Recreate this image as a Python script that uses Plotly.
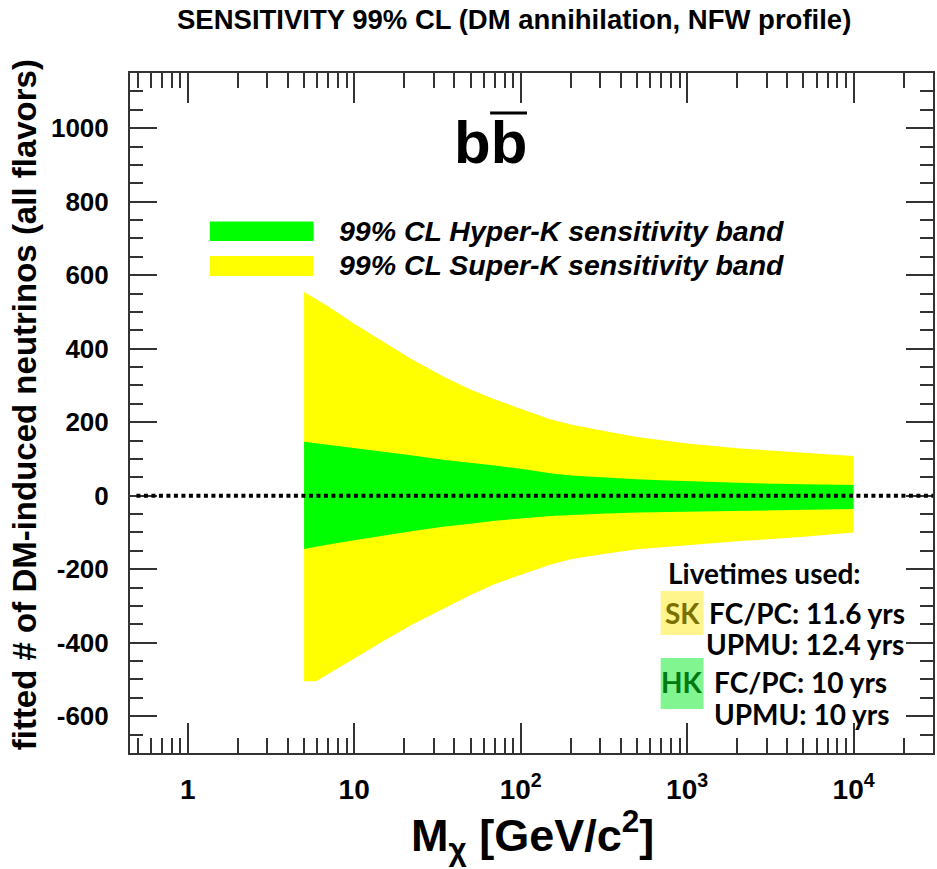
import plotly.graph_objects as go

# ---------------- data ----------------
mass = [5, 5.9, 7, 10, 15, 22, 35, 50, 70, 100, 150, 200, 300, 500, 700, 1000, 2000, 5000, 10000]
sk_hi = [554, 535, 515, 468, 418, 372, 322, 289, 262, 236, 208, 194, 178, 160, 151, 142, 129, 116, 108]
sk_lo = [-505, -505, -483, -442, -395, -352, -305, -270, -240, -215, -188, -173, -160, -146, -141, -135, -124, -112, -100]
hk_hi = [147, 143, 139, 130, 120, 110, 97, 90, 82, 73, 61, 55, 50, 45, 42, 39, 35, 31, 29]
hk_lo = [-145, -140, -133, -121, -108, -97, -84, -76, -68, -62, -55, -52, -49, -46, -44, -42, -40, -38, -36]

xtick_vals = [1, 10, 100, 1000, 10000]
xtick_text = ["1", "10", "10<sup>2</sup>", "10<sup>3</sup>", "10<sup>4</sup>"]
ytick_vals = [-600, -400, -200, 0, 200, 400, 600, 800, 1000]

W, H = 937, 869
L, R, T, B = 130, 2, 73, 116
PW, PH = W - L - R, H - T - B


def px(x):
    return (x - L) / PW


def py(y):
    return (H - B - y) / PH


fig = go.Figure()
fig.add_trace(go.Scatter(x=mass + mass[::-1], y=sk_hi + sk_lo[::-1], fill="toself",
                         fillcolor="#FFFF00", line=dict(width=0), mode="lines",
                         hoverinfo="skip", showlegend=False))
fig.add_trace(go.Scatter(x=mass + mass[::-1], y=hk_hi + hk_lo[::-1], fill="toself",
                         fillcolor="#00FF00", line=dict(width=0), mode="lines",
                         hoverinfo="skip", showlegend=False))

minor_x = [m * 10 ** e for e in range(-1, 5) for m in range(2, 10) if 0.45 <= m * 10 ** e <= 30000]

yaxis_font = dict(family="Liberation Sans, Arial, sans-serif", size=26, color="black")
xaxis_font = dict(family="Liberation Sans, Arial, sans-serif", size=28, color="black")
fig.update_layout(
    width=W, height=H, margin=dict(l=L, r=R, t=T, b=B),
    paper_bgcolor="white", plot_bgcolor="white",
    showlegend=False,
    xaxis=dict(type="log", range=[-0.3468, 4.477], tickmode="array", tickvals=xtick_vals,
               ticktext=[f"<b>{t}</b>" for t in xtick_text],
               ticks="inside", ticklen=30, tickwidth=2, tickcolor="#333",
               showline=True, linewidth=2, linecolor="#333", mirror="allticks",
               showgrid=False, zeroline=False, tickfont=xaxis_font, ticklabelstandoff=10,
               minor=dict(tickmode="array", tickvals=minor_x, ticks="inside", ticklen=15,
                          tickwidth=2, tickcolor="#333", showgrid=False)),
    yaxis=dict(range=[-700, 1150], tickmode="array", tickvals=ytick_vals,
               ticktext=[f"<b>{v}</b>" for v in ytick_vals],
               ticks="inside", ticklen=27, tickwidth=2, tickcolor="#333",
               showline=True, linewidth=2, linecolor="#333", mirror="allticks",
               showgrid=False, zeroline=False, tickfont=yaxis_font, ticklabelstandoff=14,
               minor=dict(dtick=50, tick0=0, ticks="inside", ticklen=13, tickwidth=2,
                          tickcolor="#333", showgrid=False)),
)

# zero dotted line
fig.add_shape(type="line", xref="paper", yref="y", x0=0.008, x1=1, y0=0, y1=0,
              line=dict(color="black", width=4, dash="4px,3.5px"), layer="above")

annots = []
# title
annots.append(dict(text="<b>SENSITIVITY 99% CL (DM annihilation, NFW profile)</b>",
                   x=px(515), y=py(19), font=dict(size=27.5, family="Liberation Sans", color="black")))
# axis titles
annots.append(dict(text="<b>fitted # of DM-induced neutrinos (all flavors)</b>", textangle=-90,
                   x=px(24), y=py(405), font=dict(size=33, family="Liberation Sans", color="black")))
annots.append(dict(text="<b>M<sub>χ</sub> [GeV/c<sup>2</sup>]</b>",
                   x=px(534), y=py(835), font=dict(size=45, family="Liberation Sans", color="black")))
# b bbar
annots.append(dict(text="<b>bb</b>", x=px(491), y=py(143),
                   font=dict(size=60, family="Liberation Sans", color="black")))
fig.add_shape(type="line", xref="paper", yref="paper", x0=px(491), x1=px(528),
              y0=py(113), y1=py(113), line=dict(color="black", width=3))

# legend
fig.add_shape(type="rect", xref="paper", yref="paper", x0=px(210), x1=px(314),
              y0=py(241), y1=py(221.5), fillcolor="#00FF00", line=dict(width=0))
fig.add_shape(type="rect", xref="paper", yref="paper", x0=px(210), x1=px(314),
              y0=py(276), y1=py(256), fillcolor="#FFFF00", line=dict(width=0))
for label, yy in [("99% CL Hyper-K sensitivity band", 231), ("99% CL Super-K sensitivity band", 265)]:
    annots.append(dict(text=f"<b><i>{label}</i></b>", x=px(338), y=py(yy), xanchor="left",
                       font=dict(size=28.5, family="Liberation Sans", color="black")))

# livetime box
fig.add_shape(type="rect", xref="paper", yref="paper", x0=px(662), x1=px(705),
              y0=py(635), y1=py(591), fillcolor="#FFF58C", line=dict(width=0))
fig.add_shape(type="rect", xref="paper", yref="paper", x0=px(662), x1=px(705),
              y0=py(709), y1=py(658), fillcolor="#80F590", line=dict(width=0))
lt_font = dict(size=28, family="Lato, Open Sans, sans-serif", color="black")
annots.append(dict(text="<b>Livetimes used:</b>", x=px(667), y=py(573), xanchor="left", font=lt_font))
annots.append(dict(text="<b>SK</b>", x=px(683.5), y=py(613), font=dict(lt_font, color="#7A7000")))
annots.append(dict(text="<b>FC/PC: 11.6 yrs</b>", x=px(708), y=py(613), xanchor="left", font=lt_font))
annots.append(dict(text="<b>UPMU: 12.4 yrs</b>", x=px(705), y=py(644), xanchor="left", font=lt_font))
annots.append(dict(text="<b>HK</b>", x=px(683.5), y=py(682), font=dict(lt_font, color="#007A10")))
annots.append(dict(text="<b>FC/PC: 10 yrs</b>", x=px(713), y=py(682), xanchor="left", font=lt_font))
annots.append(dict(text="<b>UPMU: 10 yrs</b>", x=px(713), y=py(714), xanchor="left", font=lt_font))

for a in annots:
    a.setdefault("xanchor", "center")
    a.setdefault("yanchor", "middle")
    fig.add_annotation(xref="paper", yref="paper", showarrow=False, **a)

fig.write_html("out.html")
